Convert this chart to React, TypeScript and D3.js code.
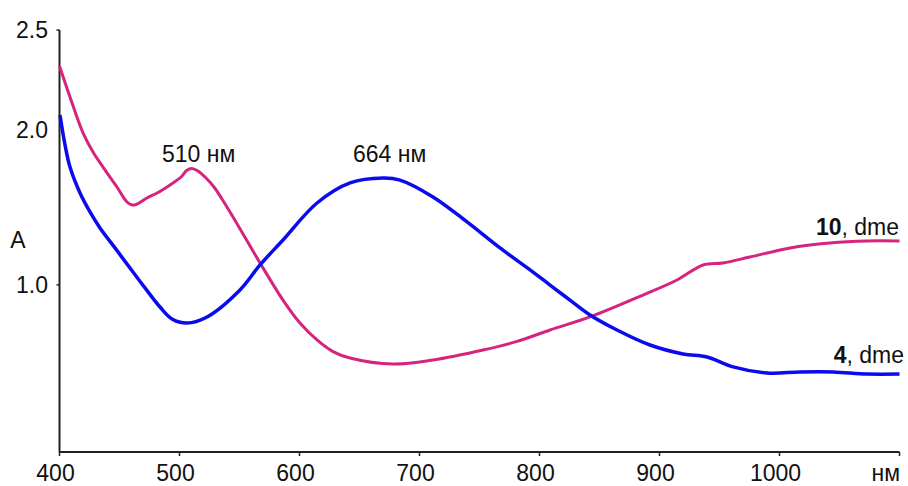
import React from "react";
import * as d3 from "d3";

const redNm = [400, 408.75, 419.6, 427.9, 436.25, 447.9, 456.25, 460.4, 464.6, 472.9, 481.3, 494.6, 501.3, 506, 510, 515.4, 522.1, 528.75, 535.4, 544.6, 555.4, 567.1, 586.25, 600.4, 614.6, 627.9, 642.1, 677.9, 711.3, 752.9, 781.3, 808.8, 842.1, 886.3, 914.6, 936.3, 952.9, 975.4, 1008.8, 1042.1, 1072.9, 1100];
const redA = [2.287, 2.103, 1.89, 1.777, 1.688, 1.57, 1.481, 1.463, 1.469, 1.505, 1.534, 1.594, 1.629, 1.668, 1.68, 1.665, 1.623, 1.57, 1.499, 1.392, 1.262, 1.12, 0.9, 0.764, 0.664, 0.595, 0.557, 0.521, 0.545, 0.604, 0.655, 0.723, 0.8, 0.93, 1.019, 1.108, 1.12, 1.155, 1.209, 1.238, 1.25, 1.25];

const blueNm = [400.4, 404.6, 408.75, 417.1, 425.4, 433.75, 446.25, 458.75, 471.25, 483.75, 493.75, 506.25, 522.9, 550.4, 567.1, 586.25, 614.6, 642.1, 669.6, 683.75, 711.25, 739.6, 767.1, 794.6, 808.75, 825.4, 842.1, 864.6, 892.1, 919.6, 939.6, 961.3, 989.6, 1017.1, 1044.6, 1072.9, 1100];
const blueA = [1.996, 1.819, 1.688, 1.534, 1.422, 1.327, 1.209, 1.09, 0.972, 0.859, 0.788, 0.764, 0.8, 0.96, 1.108, 1.256, 1.475, 1.594, 1.623, 1.611, 1.511, 1.363, 1.209, 1.066, 0.989, 0.9, 0.812, 0.723, 0.634, 0.581, 0.563, 0.504, 0.468, 0.474, 0.474, 0.462, 0.462];

const xTicks = [400, 500, 600, 700, 800, 900, 1000];
const xTickMarks = [400, 500, 600, 700, 800, 900, 1000, 1100];
const yTickVals = [2.5, 1.91, 0.99];
const yTickLabels = ["2.5", "2.0", "1.0"];
const yTickMarks = [2.5, 0.99];

const W = 908, H = 486;
const FONT = "'Liberation Sans', Arial, sans-serif";
const FS = 23;

export default function App() {
  const x = d3.scaleLinear().domain([400, 1100]).range([59.5, 899.5]);
  const y = d3.scaleLinear().domain([0, 2.5]).range([452, 30]);
  const line = d3
    .line<[number, number]>()
    .x((d) => x(d[0]))
    .y((d) => y(d[1]))
    .curve(d3.curveCatmullRom.alpha(0.5));
  const red = redNm.map((n, i) => [n, redA[i]] as [number, number]);
  const blue = blueNm.map((n, i) => [n, blueA[i]] as [number, number]);
  const textColor = "#111";
  return (
    <svg width={W} height={H} style={{ position: "absolute", left: 0, top: 0, background: "#fff" }} fontFamily={FONT}>
      <rect width={W} height={H} fill="#fff" />
      {/* axes */}
      <line x1={x(400)} x2={x(400)} y1={y(2.5)} y2={y(0)} stroke="#222" strokeWidth={2} />
      <line x1={x(400)} x2={x(1100)} y1={y(0)} y2={y(0)} stroke="#222" strokeWidth={2} />
      {xTickMarks.map((t) => (
        <line key={t} x1={x(t)} x2={x(t)} y1={y(0)} y2={y(0) + 4} stroke="#222" strokeWidth={1.5} />
      ))}
      {yTickMarks.map((t) => (
        <line key={t} x1={x(400) - 3} x2={x(400)} y1={y(t)} y2={y(t)} stroke="#222" strokeWidth={1.5} />
      ))}
      {xTicks.map((t) => (
        <text key={t} x={x(t) - 4} y={481} textAnchor="middle" fontSize={FS} fill={textColor}>
          {t}
        </text>
      ))}
      <text x={900} y={481} textAnchor="end" fontSize={FS} fill={textColor}>нм</text>
      {yTickVals.map((v, i) => (
        <text key={i} x={48} y={y(v) + 8} textAnchor="end" fontSize={FS} fill={textColor}>
          {yTickLabels[i]}
        </text>
      ))}
      <text x={18} y={248} textAnchor="middle" fontSize={FS} fill={textColor}>A</text>
      {/* curves */}
      <path d={line(red) || ""} fill="none" stroke="#D6247E" strokeWidth={3} strokeLinejoin="round" />
      <path d={line(blue) || ""} fill="none" stroke="#0A0AEE" strokeWidth={3.5} strokeLinejoin="round" />
      {/* annotations */}
      <text x={162} y={162} textAnchor="start" fontSize={FS} fill={textColor}>510 нм</text>
      <text x={353} y={162} textAnchor="start" fontSize={FS} fill={textColor}>664 нм</text>
      <text x={899} y={235} textAnchor="end" fontSize={FS} fill={textColor}>
        <tspan fontWeight="bold">10</tspan>, dme
      </text>
      <text x={904} y={363} textAnchor="end" fontSize={FS} fill={textColor}>
        <tspan fontWeight="bold">4</tspan>, dme
      </text>
    </svg>
  );
}
